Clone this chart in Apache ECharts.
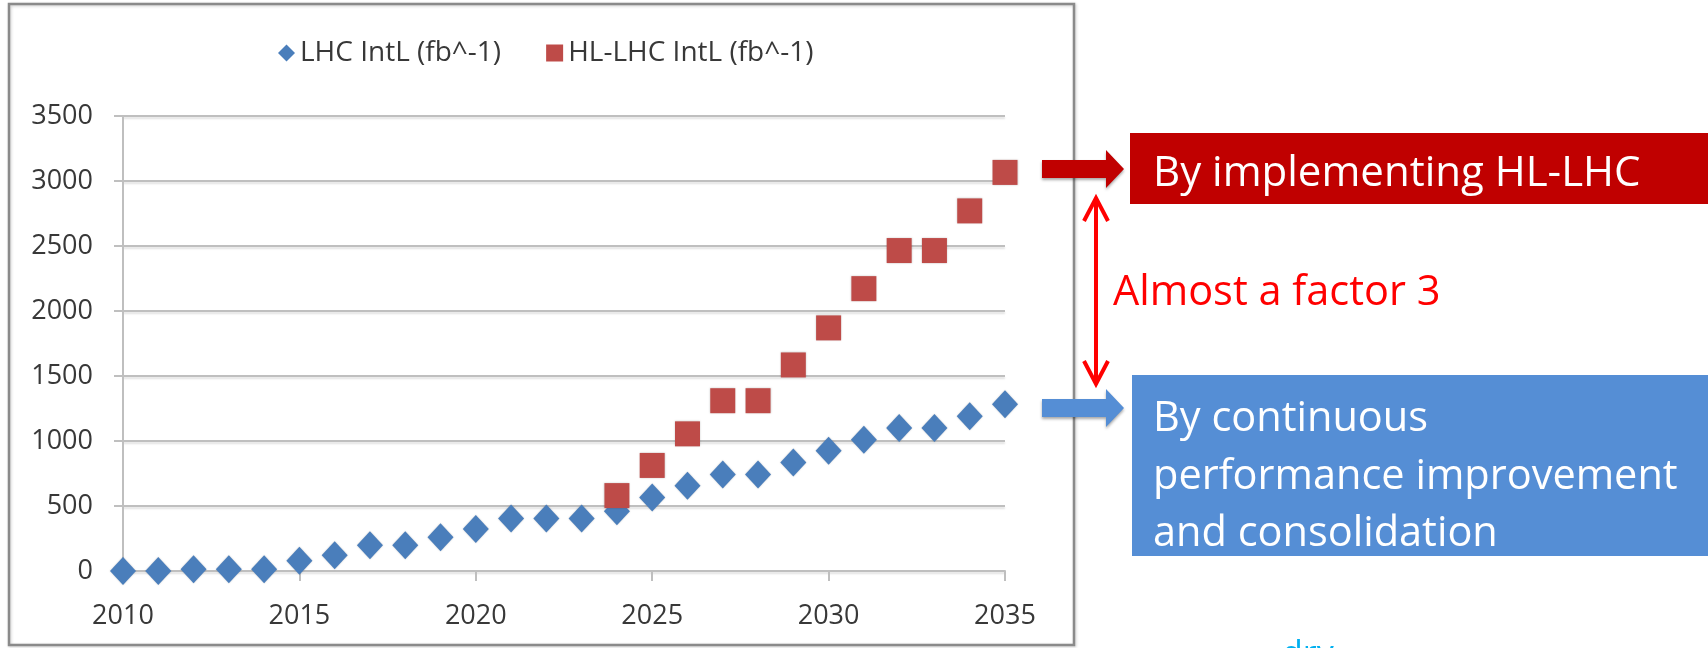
<!DOCTYPE html>
<html>
<head>
<meta charset="utf-8">
<title>Integrated luminosity: LHC vs HL-LHC</title>
<script src="https://cdn.jsdelivr.net/npm/echarts@6/dist/echarts.min.js"></script>
<style>
  html, body { margin: 0; padding: 0; background: #ffffff; }
  #chart { width: 1708px; height: 648px; }
</style>
</head>
<body>
<div id="chart"></div>
<script>
// Years on the horizontal axis
const years = [2010, 2011, 2012, 2013, 2014, 2015, 2016, 2017, 2018, 2019,
               2020, 2021, 2022, 2023, 2024, 2025, 2026, 2027, 2028, 2029,
               2030, 2031, 2032, 2033, 2034, 2035];

// Integrated luminosity (fb^-1) with the current machine
const lhcIntL = [0, 0, 13, 13, 13, 78, 122, 198, 198, 260,
                 323, 403, 403, 403, 459, 565, 655, 742, 742, 835,
                 925, 1010, 1100, 1100, 1190, 1282];

// Integrated luminosity (fb^-1) with the high-luminosity upgrade (from 2024)
const hlLhcIntL = [null, null, null, null, null, null, null, null, null, null,
                   null, null, null, null, 580, 812, 1055, 1310, 1310, 1585,
                   1870, 2172, 2465, 2465, 2770, 3066];

const seriesNames = ['LHC IntL (fb^-1)', 'HL-LHC IntL (fb^-1)'];

// Axis ranges and tick steps
const xRange = { min: 2010, max: 2035, step: 5 };
const yRange = { min: 0, max: 3500, step: 500 };

// Side annotations
const hlText = 'By implementing HL-LHC';
const factorText = 'Almost a factor 3';
const lhcTextLines = ['By continuous', 'performance improvement', 'and consolidation'];
const cutText = 'dry';

const toPoints = (vals) => years
  .map((y, i) => (vals[i] == null ? null : [y, vals[i]]))
  .filter((p) => p !== null);

const FONT = '"Open Sans", "Noto Sans", sans-serif';
const GRID_GRAY = '#BFBFBF';
const TEXT_GRAY = '#383838';
const RED_BOX = '#C00000';
const BLUE_BOX = '#558ED5';

const chart = echarts.init(document.getElementById('chart'), null, { renderer: 'canvas' });

const arrow = (yc, color) => ({
  type: 'polygon',
  shape: {
    points: [
      [1042, yc - 9], [1106, yc - 9], [1106, yc - 19], [1124, yc],
      [1106, yc + 19], [1106, yc + 9], [1042, yc + 9]
    ]
  },
  style: {
    fill: color,
    shadowBlur: 3, shadowOffsetY: 2, shadowColor: 'rgba(0,0,0,0.35)'
  },
  z: 10
});

const whiteText = (str, x, y, size) => ({
  type: 'text',
  style: {
    text: str, x: x, y: y, fill: '#ffffff',
    font: size + 'px ' + FONT,
    verticalAlign: 'middle', align: 'left'
  },
  z: 12
});

const plainNumber = (v) => String(v);

const option = {
  animation: false,
  backgroundColor: '#ffffff',
  grid: { left: 123, right: 703, top: 116, bottom: 77, containLabel: false },
  legend: {
    left: 273, top: 34,
    itemWidth: 17, itemHeight: 17, itemGap: 45,
    textStyle: { fontFamily: FONT, fontSize: 28, color: TEXT_GRAY },
    data: [
      { name: seriesNames[0], icon: 'diamond' },
      { name: seriesNames[1], icon: 'rect' }
    ]
  },
  xAxis: {
    type: 'value',
    min: xRange.min, max: xRange.max, interval: xRange.step,
    axisLine: { show: true, onZero: true, lineStyle: { color: GRID_GRAY, width: 2 } },
    axisTick: { show: true, inside: false, length: 10, lineStyle: { color: GRID_GRAY, width: 2 } },
    axisLabel: { margin: 32, fontFamily: FONT, fontSize: 27, color: TEXT_GRAY, formatter: plainNumber },
    splitLine: { show: false }
  },
  yAxis: {
    type: 'value',
    min: yRange.min, max: yRange.max, interval: yRange.step,
    axisLine: { show: true, lineStyle: { color: GRID_GRAY, width: 2 } },
    axisTick: { show: true, inside: false, length: 9, lineStyle: { color: GRID_GRAY, width: 2 } },
    axisLabel: { margin: 30, fontFamily: FONT, fontSize: 27, color: TEXT_GRAY, formatter: plainNumber },
    splitLine: {
      show: true,
      lineStyle: {
        color: GRID_GRAY, width: 2,
        shadowColor: 'rgba(0,0,0,0.12)', shadowBlur: 2, shadowOffsetY: 2
      }
    }
  },
  series: [
    {
      name: seriesNames[0],
      type: 'scatter',
      symbol: 'diamond',
      symbolSize: [26, 28],
      itemStyle: { color: '#4A7EBB', opacity: 1, shadowColor: 'rgba(0,0,0,0.2)', shadowBlur: 2 },
      data: toPoints(lhcIntL),
      z: 3
    },
    {
      name: seriesNames[1],
      type: 'scatter',
      symbol: 'rect',
      symbolSize: 25,
      itemStyle: { color: '#BE4B48', opacity: 1, shadowColor: 'rgba(0,0,0,0.2)', shadowBlur: 2 },
      data: toPoints(hlLhcIntL),
      z: 4
    }
  ],
  graphic: [
    // frame around the plot area
    {
      type: 'rect',
      shape: { x: 9, y: 4, width: 1065, height: 641 },
      style: {
        fill: 'none', stroke: '#8A8A8A', lineWidth: 2.5,
        shadowColor: 'rgba(0,0,0,0.2)', shadowBlur: 3, shadowOffsetX: 1, shadowOffsetY: 1
      },
      z: 1
    },
    // HL-LHC annotation
    {
      type: 'rect',
      shape: { x: 1130, y: 133, width: 578, height: 71 },
      style: { fill: RED_BOX },
      z: 11
    },
    whiteText(hlText, 1153, 174, 42),
    arrow(169, RED_BOX),
    // LHC annotation
    {
      type: 'rect',
      shape: { x: 1132, y: 375, width: 576, height: 181 },
      style: { fill: BLUE_BOX },
      z: 11
    },
    whiteText(lhcTextLines[0], 1153, 419, 41.5),
    whiteText(lhcTextLines[1], 1153, 477, 41.5),
    whiteText(lhcTextLines[2], 1153, 534, 41.5),
    arrow(408, BLUE_BOX),
    // double-headed arrow between the two annotations
    {
      type: 'line',
      shape: { x1: 1096, y1: 198, x2: 1096, y2: 384 },
      style: { stroke: '#FF0000', lineWidth: 4 },
      z: 10
    },
    {
      type: 'polyline',
      shape: { points: [[1084, 221], [1096, 198], [1108, 221]] },
      style: { stroke: '#FF0000', lineWidth: 4, fill: 'none', lineJoin: 'miter' },
      z: 10
    },
    {
      type: 'polyline',
      shape: { points: [[1084, 361], [1096, 384], [1108, 361]] },
      style: { stroke: '#FF0000', lineWidth: 4, fill: 'none', lineJoin: 'miter' },
      z: 10
    },
    {
      type: 'text',
      style: {
        text: factorText, x: 1113, y: 293, fill: '#FF0000',
        font: '41.5px ' + FONT, verticalAlign: 'middle', align: 'left'
      },
      z: 12
    },
    // partially visible caption at the lower edge
    {
      type: 'text',
      style: {
        text: cutText, x: 1282, y: 655, fill: '#00B0F0',
        font: '34px ' + FONT, verticalAlign: 'middle', align: 'left'
      },
      z: 12
    }
  ]
};

chart.setOption(option);
</script>
</body>
</html>
